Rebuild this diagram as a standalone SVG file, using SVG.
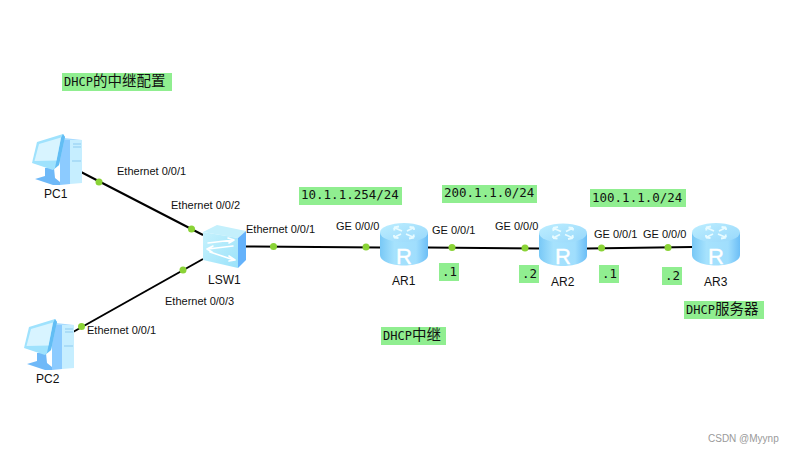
<svg xmlns="http://www.w3.org/2000/svg" width="794" height="454" viewBox="0 0 794 454">
<style>
text{font-family:"Liberation Sans",Arial,sans-serif;font-size:11px;fill:#111}
.n{font-size:12px}
.m{font-family:"DejaVu Sans Mono","Noto Sans CJK SC",monospace;font-size:12.500px;fill:#111}
.h{font-size:12px}
.c{font-family:"Noto Sans CJK SC",sans-serif;font-size:14.500px}
.b{fill:#90ee90}
.l{stroke:#000;stroke-width:2;fill:none}
.d{fill:#8ad336}
.a{fill:none;stroke:#fff;stroke-width:1.600;stroke-linecap:round;stroke-linejoin:round}
</style>
<defs>
<linearGradient id="rb" x1="0" y1="0" x2="1" y2="0">
<stop offset="0" stop-color="#78c8f6"/><stop offset=".3" stop-color="#a6e2fd"/><stop offset=".75" stop-color="#a0defd"/><stop offset="1" stop-color="#6cbef6"/>
</linearGradient>
<linearGradient id="rt" x1="0" y1="0" x2="1" y2="1">
<stop offset="0" stop-color="#bdeeff"/><stop offset="1" stop-color="#98d8fb"/>
</linearGradient>
<linearGradient id="sf" x1="0" y1="0" x2="1" y2="1">
<stop offset="0" stop-color="#c6f2fd"/><stop offset="1" stop-color="#9be2fa"/>
</linearGradient>
<g id="router">
<path d="M0 9.500V32C0 38 11 42.500 24 42.500S48 38 48 32V9.500Z" fill="url(#rb)"/>
<ellipse cx="24" cy="9.500" rx="24" ry="9.500" fill="url(#rt)"/>
<path d="M22 8L14 4.500M14 4.500L19 3.500M14 4.500L14.500 7.500M26 11L34 14.500M34 14.500L29 15.500M34 14.500L33.500 11.500M27 8L34 4.500M34 4.500L29.500 4M34 4.500L34 7M21 11L14 14.500M14 14.500L18.500 15M14 14.500L14 12" stroke="#e8fbff" stroke-width="1.800" fill="none"/>
<text x="24" y="40.500" text-anchor="middle" stroke="#fff" stroke-width=".4" style="font-family:'Liberation Sans',sans-serif;font-size:22px;fill:#fff">R</text>
</g>
<g id="pc">
<path d="M31 6H41V50L31 51Z" fill="#8ccbff"/>
<path d="M41 6H53V49L41 50Z" fill="#c6eeff"/>
<path d="M33 6L35 4L53 6H41Z" fill="#a8dcff"/>
<path d="M44 10H52M44 13H52M43 27H52" stroke="#8ecbf0" stroke-width="1" fill="none"/>
<path d="M16 34H25L26 44L31 48V51L24 51L6 45L16 42Z" fill="#6fb9f8"/>
<path d="M8 8L34 0L36 3L30 31L24 36L3 29Z" fill="#9fe2fd"/>
<path d="M34 0L36 3L30 31L24 36L26 34L32 4Z" fill="#62bdf4"/>
<path d="M10 10L32 3.500L27.500 26.500L5.500 27Z" fill="#d8f4ff"/>
</g>
</defs>
<rect width="794" height="454" fill="#fff"/>
<g id="connectors">
<path class="l" d="M81 172L203 235"/>
<path class="l" d="M203 259L73 332"/>
<path class="l" d="M246 246.500L380 247.500"/>
<path class="l" d="M428 247.500L540 248.500"/>
<path class="l" d="M587 248.500L692 247"/>
<circle class="d" cx="99" cy="182" r="3.500"/>
<circle class="d" cx="191.500" cy="229" r="3.500"/>
<circle class="d" cx="183" cy="270" r="3.500"/>
<circle class="d" cx="81.500" cy="326.500" r="3.500"/>
<circle class="d" cx="273.500" cy="246.500" r="3.500"/>
<circle class="d" cx="366" cy="247" r="3.500"/>
<circle class="d" cx="452" cy="247.500" r="3.500"/>
<circle class="d" cx="525" cy="248" r="3.500"/>
<circle class="d" cx="601.500" cy="248" r="3.500"/>
<circle class="d" cx="668" cy="247.500" r="3.500"/>
<text x="117" y="175">Ethernet 0/0/1</text>
<text x="171" y="209">Ethernet 0/0/2</text>
<text x="165" y="305">Ethernet 0/0/3</text>
<text x="87" y="334">Ethernet 0/0/1</text>
<text x="246" y="233">Ethernet 0/0/1</text>
<text x="336" y="230">GE 0/0/0</text>
<text x="432" y="234">GE 0/0/1</text>
<text x="495" y="230">GE 0/0/0</text>
<text x="594" y="238">GE 0/0/1</text>
<text x="643" y="238">GE 0/0/0</text>
</g>
<g id="PC1"><use href="#pc" transform="translate(29 134)"/><text class="n" x="44" y="198">PC1</text></g>
<g id="PC2"><use href="#pc" transform="translate(21 319)"/><text class="n" x="36" y="383">PC2</text></g>
<g id="LSW1">
<path d="M203 232L217 225L246 231L238 238Z" fill="#c4f0fc"/>
<path d="M203 232L238 238V268L203 260Z" fill="url(#sf)"/>
<path d="M238 238L246 231V260L238 268Z" fill="#64b2fb"/>
<path class="a" d="M208 243L233 240M228 238L234 240L229 243M233 246L208 249M213 246L207 249L212 252M210 252L234 260M229 256L235 260L229 261"/>
<text class="n" x="208" y="284">LSW1</text>
</g>
<g id="AR1"><use href="#router" transform="translate(380 223)"/><text class="n" x="392" y="285">AR1</text></g>
<g id="AR2"><use href="#router" transform="translate(539 223.500)"/><text class="n" x="551" y="286">AR2</text></g>
<g id="AR3"><use href="#router" transform="translate(692 223)"/><text class="n" x="704" y="286">AR3</text></g>
<g id="labels">
<rect class="b" x="62" y="73" width="110" height="18"/>
<text class="m h" x="64" y="86">DHCP<tspan class="c">的中继配置</tspan></text>
<rect class="b" x="299" y="187" width="103" height="18"/>
<text class="m" x="301" y="199">10.1.1.254/24</text>
<rect class="b" x="442" y="185" width="95" height="18"/>
<text class="m" x="444" y="197">200.1.1.0/24</text>
<rect class="b" x="590" y="189" width="96" height="18"/>
<text class="m" x="592" y="202">100.1.1.0/24</text>
<rect class="b" x="439" y="263" width="20" height="18"/>
<text class="m" x="442" y="276">.1</text>
<rect class="b" x="519" y="265" width="20" height="18"/>
<text class="m" x="522" y="278">.2</text>
<rect class="b" x="599" y="265" width="20" height="18"/>
<text class="m" x="602" y="278">.1</text>
<rect class="b" x="662" y="267" width="20" height="18"/>
<text class="m" x="665" y="280">.2</text>
<rect class="b" x="684" y="301" width="80" height="18"/>
<text class="m h" x="686" y="314">DHCP<tspan class="c">服务器</tspan></text>
<rect class="b" x="381" y="327" width="65" height="18"/>
<text class="m h" x="383" y="340">DHCP<tspan class="c">中继</tspan></text>
</g>
<text x="708" y="442" style="font-size:10px;fill:#9a9a9a">CSDN @Myynp</text>
</svg>
